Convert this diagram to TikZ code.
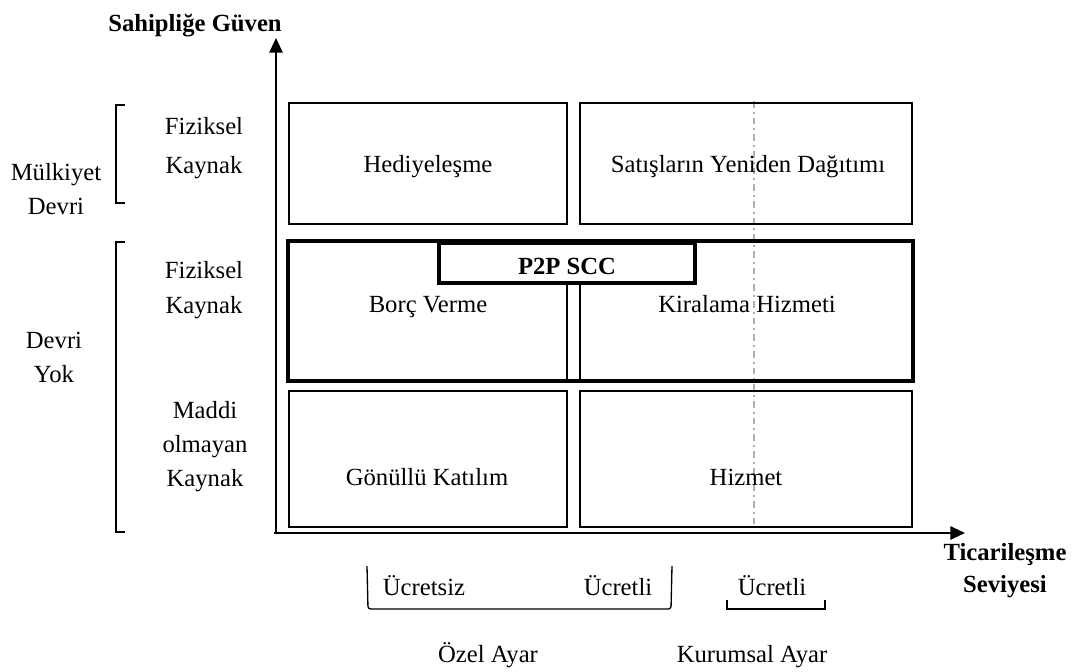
\documentclass[tikz,border=0pt]{standalone}
\usepackage{fontspec}
\setmainfont{Liberation Serif}
\usetikzlibrary{positioning,fit,arrows.meta}
\tikzset{every picture/.style={line width=0.75pt}}
\tikzset{
  txt/.style={font=\fontsize{18.5}{22}\selectfont, inner sep=0.75pt, align=center},
  line/.style={txt, text height=13pt, text depth=4pt},
  btxt/.style={txt, font=\fontsize{18.5}{22}\selectfont\bfseries},
  cell/.style={draw, line width=1pt, inner sep=0pt, minimum width=#1},
  axis/.style={line width=1.4pt, -{Triangle[length=11pt,width=10pt]}},
  brace/.style={line width=1pt},
}

\begin{document}
\begin{tikzpicture}[x=0.75pt,y=0.75pt,yscale=-1,xscale=1]

\useasboundingbox (0,0) rectangle (1073,671);

%Axes
\coordinate (O) at (276,533);
\coordinate (ytip) at (276,38);
\coordinate (xtip) at (965,533);
\draw [axis] ([xshift=-1.5pt]O) -- (xtip);
\draw [axis] (O) -- (ytip);

%Institutional divider
\coordinate (divtop) at (754,101);
\coordinate (divbot) at (754,527);
\draw [color={rgb, 255:red, 175; green, 175; blue, 175}, line width=1pt, dash pattern=on 5pt off 3pt on 1.5pt off 3pt] (divtop) -- (divbot);

%Cells: top row
\node [cell=208.5pt, minimum height=90.75pt] (topL) at (428,163.5) {};
\node [cell=249pt, minimum height=90.75pt] (topR) at (746,163.5) {};
\node [line] (hediye) at (428,166) {Hediyeleşme};
\node [line] (satis) at (748,166) {Satışların Yeniden Dağıtımı};
%Cells: middle row
\node [cell=208.5pt, minimum height=104.25pt] (midL) at (428,311) {};
\node [cell=249pt, minimum height=104.25pt] (midR) at (746,311) {};
\node [draw, line width=3pt, inner sep=0pt, fit=(midL)(midR)] (p2pframe) {};
\node [line] (borc) at (428,306) {Borç Verme};
\node [line] (kira) at (747,306) {Kiralama Hizmeti};
\node [draw, line width=3pt, fill=white, minimum width=192pt, minimum height=30pt, inner sep=0pt, btxt, text height=17pt, text depth=0pt] (p2p) at (567,263) {P2P SCC};
%Cells: bottom row
\node [cell=208.5pt, minimum height=102pt] (botL) at (428,459) {};
\node [cell=249pt, minimum height=102pt] (botR) at (746,459) {};
\node [line] (gonullu) at (427,479) {Gönüllü Katılım};
\node [line] (hizmet) at (746,479) {Hizmet};

%Axis titles
\node [btxt] (ytitle) at (195,26) {Sahipliğe Güven};
\node [btxt] (xtitle) at (1005,571) {Ticarileşme\\[2pt]Seviyesi};

%Row labels
\node [txt] (fiz1) at (204,148) {Fiziksel\\[7pt]Kaynak};
\node [txt] (fiz2) at (204,290) {Fiziksel\\[4pt]Kaynak};
\node [txt] (maddi) at (205,447) {Maddi\\[3.5pt]olmayan\\[3.5pt]Kaynak};
\node [txt] (mulk) at (56,189) {Mülkiyet\\[4pt]Devri};
\node [txt] (devriyok) at (54,357) {Devri\\[3.5pt]Yok};
\draw [brace] (125,105) -- (116,105) -- (116,203) -- (125,203);
\draw [brace] (125,242) -- (116,242) -- (116,532) -- (125,532);

%Column labels
\node [line] (ucretsiz) at (424,589) {Ücretsiz};
\node [line] (ucretli1) at (618,589) {Ücretli};
\node [line] (ucretli2) at (772,589) {Ücretli};
\draw [brace, rounded corners=2pt] (367,566) -- (368,609) -- (671,609) -- (672,566);
\draw [brace] (727,600) -- (727,609) -- (825,609) -- (825,600);
\node [line] (ozel) at (488,656) {Özel Ayar};
\node [line] (kurum) at (752,656) {Kurumsal Ayar};

\end{tikzpicture}
\end{document}
